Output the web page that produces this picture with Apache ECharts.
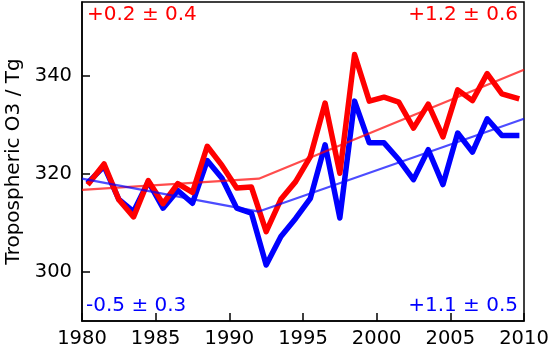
<!DOCTYPE html>
<html>
<head>
<meta charset="utf-8">
<script src="https://cdn.jsdelivr.net/npm/echarts@6/dist/echarts.min.js"></script>
<style>html,body{margin:0;padding:0;background:#fff}#c{width:550px;height:348px}</style>
</head>
<body>
<div id="c"></div>
<script>
const years = [1980.5,1981.5,1982.5,1983.5,1984.5,1985.5,1986.5,1987.5,1988.5,1989.5,
  1990.5,1991.5,1992.5,1993.5,1994.5,1995.5,1996.5,1997.5,1998.5,1999.5,
  2000.5,2001.5,2002.5,2003.5,2004.5,2005.5,2006.5,2007.5,2008.5,2009.5];
const redValues = [318.2,322.0,314.7,311.2,318.6,313.9,318.0,316.2,325.6,321.7,
  317.1,317.3,308.2,314.8,318.4,323.5,334.4,320.1,344.3,334.8,
  335.6,334.6,329.3,334.2,327.5,337.1,334.9,340.4,336.3,335.4];
const blueValues = [318.5,321.5,314.8,312.3,318.4,313.0,316.6,314.0,322.7,319.1,
  313.0,312.0,301.4,307.2,310.9,315.0,325.9,311.0,334.8,326.3,
  326.3,322.9,318.8,324.9,317.8,328.3,324.4,331.2,327.8,327.8];
const trendYears = [1980, 1992, 2010];
const redTrend = [316.7, 319.0, 341.2];
const blueTrend = [319.0, 312.3, 331.2];
const yTicks = [300, 320, 340];
const xTicks = [1980, 1985, 1990, 1995, 2000, 2005, 2010];

const pair = (xs, ys) => xs.map((x, i) => [x, ys[i]]);
const font = 'DejaVu Sans';
const chart = echarts.init(document.getElementById('c'), null, {renderer: 'canvas'});
chart.setOption({
  animation: false,
  grid: {left: 82, right: 26, top: 2, bottom: 27, outerBoundsMode: 'none', containLabel: false,
    show: true, borderColor: '#000', borderWidth: 1.5, backgroundColor: 'transparent'},
  xAxis: {
    type: 'value', min: 1980, max: 2010, interval: 5,
    axisLine: {show: true, lineStyle: {color: '#000', width: 1.5}},
    axisTick: {show: true, inside: true, length: 8, lineStyle: {color: '#000', width: 1.5}},
    axisLabel: {color: '#000', fontFamily: font, fontSize: 19.5, margin: 8, showMinLabel: true, showMaxLabel: true,
      formatter: v => String(v)},
    splitLine: {show: false}
  },
  yAxis: {
    type: 'value', min: 290, max: 355,
    name: 'Tropospheric O3 / Tg', nameLocation: 'middle', nameGap: 58,
    nameTextStyle: {color: '#000', fontFamily: font, fontSize: 20},
    axisLine: {show: true, lineStyle: {color: '#000', width: 1.5}},
    axisTick: {show: true, inside: true, length: 8, customValues: yTicks, lineStyle: {color: '#000', width: 1.5}},
    axisLabel: {color: '#000', fontFamily: font, fontSize: 19.5, margin: 10, customValues: yTicks,
      formatter: v => String(v)},
    splitLine: {show: false}
  },
  series: [
    {type: 'line', data: pair(years, blueValues), showSymbol: false, lineStyle: {color: '#0000ff', width: 5.5, join: 'round', cap: 'square'}, z: 2},
    {type: 'line', data: pair(years, redValues), showSymbol: false, lineStyle: {color: '#ff0000', width: 5.5, join: 'round', cap: 'square'}, z: 3},
    {type: 'line', data: pair(trendYears, redTrend), showSymbol: false, lineStyle: {color: '#ff0000', width: 2.2, opacity: 0.7}, z: 4},
    {type: 'line', data: pair(trendYears, blueTrend), showSymbol: false, lineStyle: {color: '#0000ff', width: 2.2, opacity: 0.7}, z: 4}
  ],
  graphic: [
    {type: 'text', left: 87, top: 5, style: {text: '+0.2 ± 0.4', fill: '#ff0000', font: '20px "DejaVu Sans"'}},
    {type: 'text', right: 32, top: 5, style: {text: '+1.2 ± 0.6', fill: '#ff0000', font: '20px "DejaVu Sans"'}},
    {type: 'text', left: 86, top: 296, style: {text: '-0.5 ± 0.3', fill: '#0000ff', font: '20px "DejaVu Sans"'}},
    {type: 'text', right: 32, top: 296, style: {text: '+1.1 ± 0.5', fill: '#0000ff', font: '20px "DejaVu Sans"'}}
  ]
});
</script>
</body>
</html>
